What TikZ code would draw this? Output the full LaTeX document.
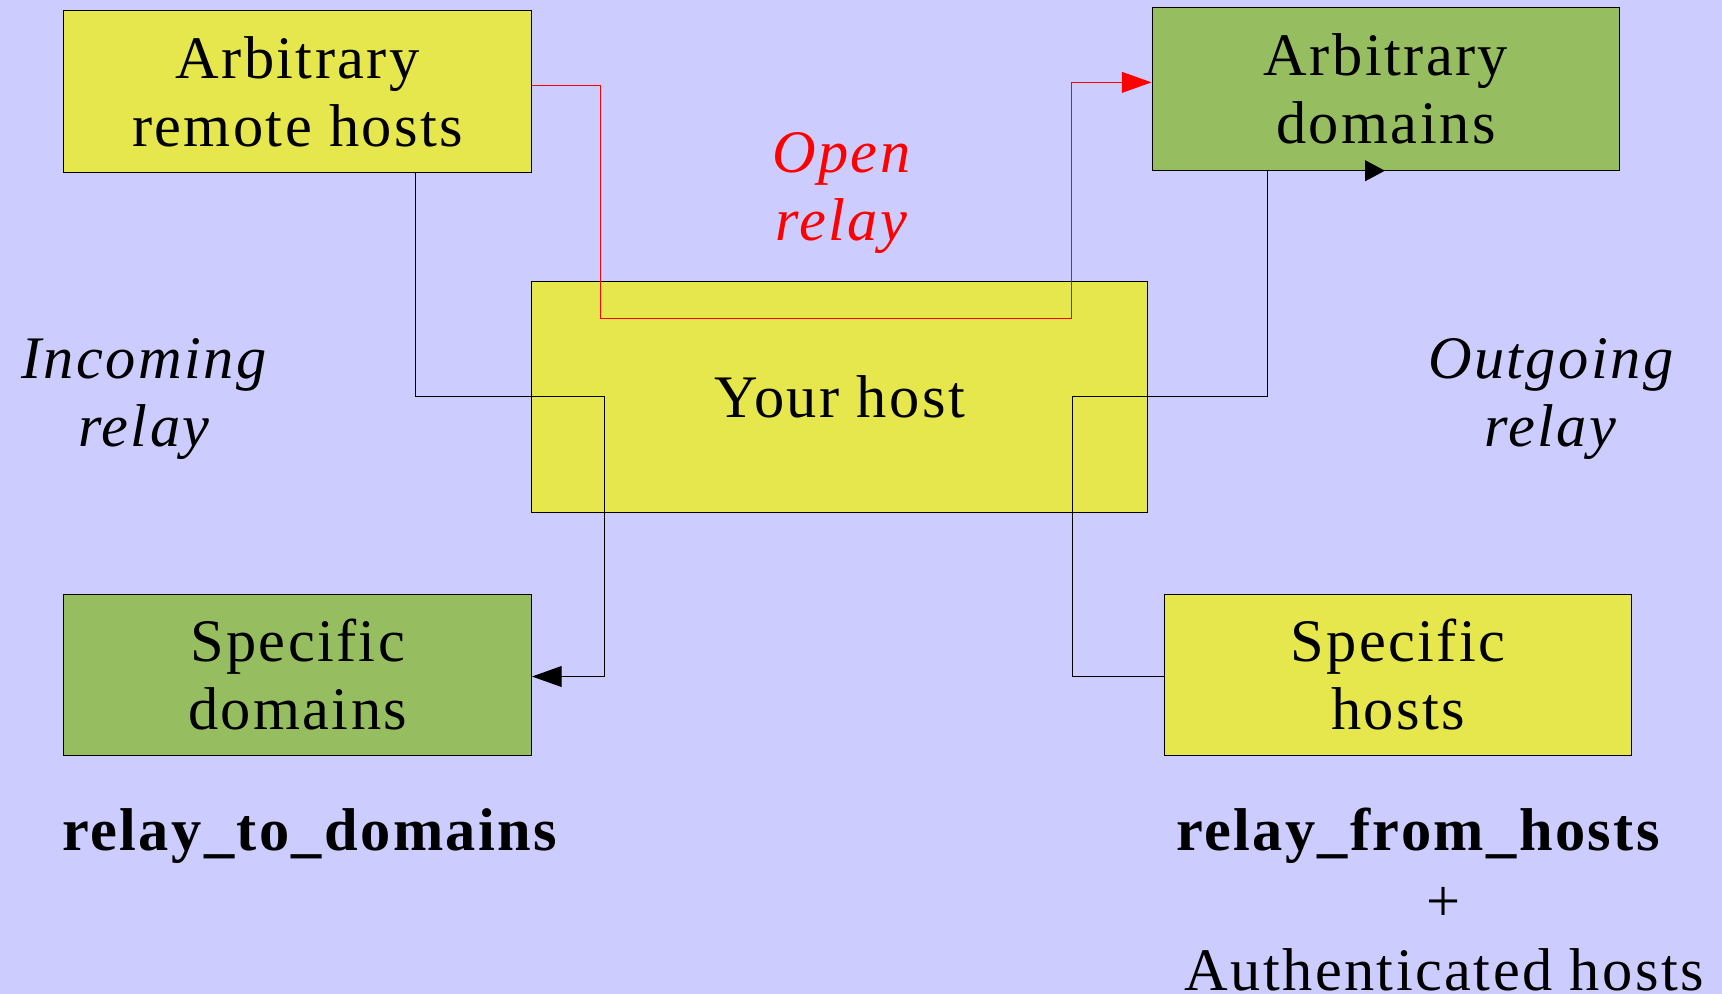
\documentclass[tikz,border=0pt]{standalone}
\usepackage{fontspec}
\setmainfont{Liberation Serif}[LetterSpace=4]
\usetikzlibrary{arrows.meta}
\definecolor{bg}{RGB}{204,204,255}
\definecolor{ybox}{RGB}{230,230,77}
\definecolor{gbox}{RGB}{150,189,96}
\begin{document}
\begin{tikzpicture}[x=1pt,y=-1pt,
  box/.style={draw=black, line width=0.9pt, inner sep=0pt, align=center,
    font=\fontsize{55}{62}\selectfont, minimum width=426pt, minimum height=147pt},
  lbl/.style={inner sep=0pt, align=center, font=\fontsize{55}{62}\selectfont\itshape},
  code/.style={inner sep=0pt, anchor=base, font=\fontsize{55}{62}\selectfont\bfseries},
  plain/.style={inner sep=0pt, anchor=base, font=\fontsize{55}{62}\selectfont},
  wire/.style={line width=0.9pt},
  tip/.style={-{Triangle[length=27pt,width=19pt]}}]
\fill[bg] (0,0) rectangle (1568,905);
\useasboundingbox (0,0) rectangle (1568,905);
\node[box, fill=ybox] (arh) at (271,83.5) {Arbitrary\\remote hosts};
\node[box, fill=gbox, minimum height=148pt] (ad) at (1262,81) {Arbitrary\\domains};
\node[box, fill=ybox, minimum width=561pt, minimum height=211pt] (you) at (764.5,361.5) {Your host};
\node[box, fill=gbox] (sd) at (271,614.5) {Specific\\domains};
\node[box, fill=ybox] (sh) at (1273,614.5) {Specific\\hosts};
\node[lbl] (inc) at (131,363) {Incoming\\relay};
\node[lbl] (outg) at (1412,363) {Outgoing\\relay};
\node[lbl, text=red] (open) at (766,176) {Open\\relay};
\node[code] (rtd) at (282,774) {relay\_to\_domains};
\node[code] (rfh) at (1291,774) {relay\_from\_hosts};
\node[plain] (plus) at (1314,839) {+};
\node[plain] (auth) at (1315,902) {Authenticated hosts};
% open relay
\draw[wire, red, tip] (arh.east |- 0,78) -- (547,78) -- (547,290) -- (976,290) -- (976,75) -- (ad.west |- 0,75);
% incoming relay
\draw[wire, tip] (arh.south -| 378,0) -- (378,361) -- (550,361) -- (550,616) -- (sd.east |- 0,616);
% outgoing relay
\draw[wire, -{Triangle[length=18pt,width=19pt]}] (sh.west |- 0,616) -- (977,616) -- (977,361) -- (1154,361) -- (ad.south -| 1154,0) -- (ad.south -| 1261,0);
\end{tikzpicture}
\end{document}
